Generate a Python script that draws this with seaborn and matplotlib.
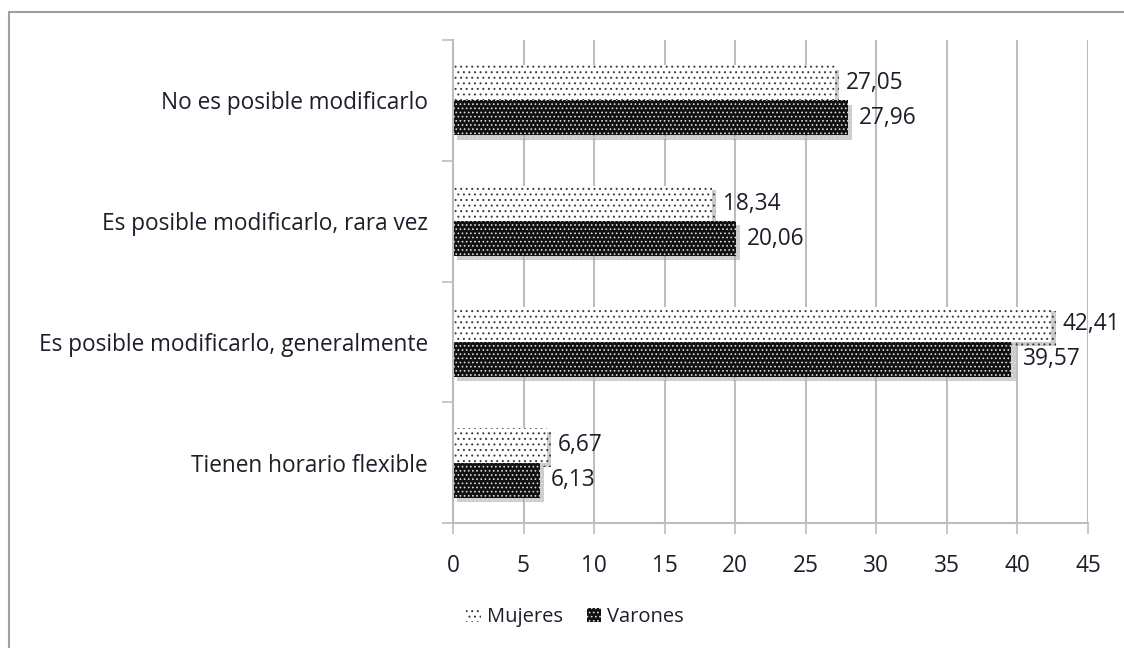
import matplotlib
matplotlib.use("Agg")
import matplotlib.pyplot as plt
import matplotlib.patheffects as pe
from matplotlib.patches import Patch, Rectangle
import seaborn as sns
import pandas as pd

categories = ["No es posible modificarlo",
              "Es posible modificarlo, rara vez",
              "Es posible modificarlo, generalmente",
              "Tienen horario flexible"]
mujeres = [27.05, 18.34, 42.41, 6.67]
varones = [27.96, 20.06, 39.57, 6.13]
series_names = ["Mujeres", "Varones"]
x_ticks = [0, 5, 10, 15, 20, 25, 30, 35, 40, 45]

df = pd.DataFrame({
    "cat": categories * 2,
    "val": mujeres + varones,
    "serie": [series_names[0]] * 4 + [series_names[1]] * 4,
})

sns.set_theme(style="white")
plt.rcParams["font.family"] = ["Open Sans", "DejaVu Sans"]
plt.rcParams["hatch.linewidth"] = 0.7
txt_color = "#1e1e2a"
grid_color = "#bdbdbd"
fs = 16.3

fig = plt.figure(figsize=(11.24, 6.48), dpi=100)
ax = fig.add_axes([453 / 1124, 1 - 523 / 648, (1088 - 453) / 1124, (523 - 40) / 648])

sns.barplot(data=df, y="cat", x="val", hue="serie", orient="h", order=categories,
            hue_order=series_names, palette=["white", "#111111"], width=0.58,
            ax=ax, legend=False, saturation=1)

styles = [dict(face="white", hatch="...", edge="#3a3a3a"),
          dict(face="#111111", hatch="....", edge="#dddddd")]
shadow = [pe.SimplePatchShadow(offset=(3, -3), shadow_rgbFace="#9a9a9a", alpha=0.5), pe.Normal()]
for cont, st in zip(ax.containers, styles):
    for p in cont:
        p.set_facecolor(st["face"])
        p.set_hatch(st["hatch"])
        p.set_edgecolor(st["edge"])
        p.set_linewidth(0)
        p.set_path_effects(shadow)

for cont, vals in zip(ax.containers, [mujeres, varones]):
    ax.bar_label(cont, labels=[f"{v:.2f}".replace(".", ",") for v in vals],
                 padding=8, fontsize=fs, color=txt_color)

ax.set_xlim(0, 45)
ax.set_ylim(3.5, -0.5)
ax.set_xticks(x_ticks)
ax.set_xticklabels([str(t) for t in x_ticks], fontsize=fs, color=txt_color)
ax.set_yticks([-0.5, 0.5, 1.5, 2.5, 3.5])
ax.set_yticklabels([])
ax.set_yticks(range(len(categories)), minor=True)
ax.set_yticklabels(categories, minor=True, fontsize=fs, color=txt_color)
ax.tick_params(axis="y", which="major", length=8, width=1.2, color=grid_color, left=True, direction="out")
ax.tick_params(axis="y", which="minor", length=0, pad=18)
ax.tick_params(axis="x", which="major", length=8, width=1.2, color=grid_color, bottom=True, direction="out", pad=14)
ax.set_xlabel("")
ax.set_ylabel("")
ax.grid(axis="x", color=grid_color, linewidth=1.5)
ax.set_axisbelow(True)
for s in ["top", "right"]:
    ax.spines[s].set_visible(False)
for s in ["left", "bottom"]:
    ax.spines[s].set_color(grid_color)
    ax.spines[s].set_linewidth(1.5)

handles = [Patch(facecolor=st["face"], hatch=st["hatch"], edgecolor=st["edge"], linewidth=0)
           for st in styles]
fig.legend(handles, series_names, loc="center", bbox_to_anchor=(575 / 1124, 1 - 617 / 648),
           ncol=2, frameon=False, fontsize=14.5, handlelength=0.7, handleheight=0.7,
           handletextpad=0.3, columnspacing=1.2, labelcolor=txt_color)

fig.patches.append(Rectangle((9 / 1124, -0.1), 1.2, 1 - 12 / 648 + 0.1, transform=fig.transFigure,
                             fill=False, edgecolor="#a0a0a0", linewidth=1.5, zorder=-1))

fig.savefig("out.png", dpi=100)
